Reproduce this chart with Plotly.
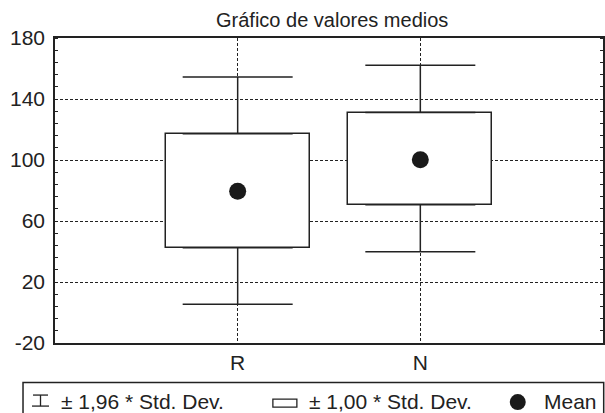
import plotly.graph_objects as go
import numpy as np

# ---- data ----
categories = ["R", "N"]
means = [79.5, 100.2]
box_low = [42.5, 70.6]      # mean - 1.00*SD
box_high = [117.2, 131.1]   # mean + 1.00*SD
whisk_low = [5.4, 39.9]     # mean - 1.96*SD
whisk_high = [154.4, 162.1] # mean + 1.96*SD
y_ticks = [-20, 20, 60, 100, 140, 180]

title_text = "Gráfico de valores medios"
legend_labels = ["± 1,96 * Std. Dev.", "± 1,00 * Std. Dev.", "Mean"]

# ---- layout geometry ----
W, H = 605, 413
L, R_, T, B = 55, 603.3, 38.4, 343.0
FONT = "Liberation Sans, Arial, Helvetica, sans-serif"
INK = "#222222"

def px(x):
    return (x - L) / (R_ - L)

def py(y):
    return (B - y) / (B - T)

xpos = np.arange(len(categories))
bl = np.array(box_low); bh = np.array(box_high)
wl = np.array(whisk_low); wh = np.array(whisk_high)

fig = go.Figure()

# boxes (+/- 1 SD)
fig.add_trace(go.Bar(
    x=xpos, y=bh - bl, base=bl, width=0.79,
    marker=dict(color="white", line=dict(color=INK, width=1.5)),
    showlegend=False, hoverinfo="skip"))

# upper whiskers
fig.add_trace(go.Scatter(
    x=xpos, y=bh, mode="markers", marker=dict(size=0.1, color="rgba(0,0,0,0)"),
    error_y=dict(type="data", symmetric=False, array=wh - bh, arrayminus=np.zeros(len(bh)),
                 color=INK, thickness=1.5, width=55),
    showlegend=False, hoverinfo="skip"))
# lower whiskers
fig.add_trace(go.Scatter(
    x=xpos, y=bl, mode="markers", marker=dict(size=0.1, color="rgba(0,0,0,0)"),
    error_y=dict(type="data", symmetric=False, array=np.zeros(len(bl)), arrayminus=bl - wl,
                 color=INK, thickness=1.5, width=55),
    showlegend=False, hoverinfo="skip"))

# means
fig.add_trace(go.Scatter(
    x=xpos, y=means, mode="markers",
    marker=dict(size=17, color="#1a1a1a", line=dict(width=0)),
    showlegend=False, hoverinfo="skip"))

fig.update_xaxes(
    range=[-1.0, 2.0], tickvals=list(xpos), ticktext=categories,
    showgrid=True, gridcolor=INK, gridwidth=1, griddash="3px,2px",
    showline=True, linecolor=INK, linewidth=1.5, mirror=True,
    ticks="", zeroline=False,
    tickfont=dict(family=FONT, size=21, color=INK))
fig.update_yaxes(
    range=[-20, 180], tickvals=y_ticks, ticktext=[str(v) for v in y_ticks],
    showgrid=True, gridcolor=INK, gridwidth=1, griddash="3px,2px",
    showline=True, linecolor=INK, linewidth=1.5, mirror="allticks",
    ticks="", zeroline=False, ticklabelstandoff=4,
    minor=dict(dtick=8, tick0=-20, ticks="inside", ticklen=3, tickcolor=INK,
               tickwidth=1, showgrid=False),
    tickfont=dict(family=FONT, size=21, color=INK))

shapes = []
annotations = []

# title
annotations.append(dict(text=title_text, x=px(332), y=py(20), xref="paper", yref="paper",
                        showarrow=False, xanchor="center", yanchor="middle",
                        font=dict(family=FONT, size=20, color=INK)))

# legend frame
shapes.append(dict(type="rect", xref="paper", yref="paper",
                   x0=px(23), x1=px(604), y0=py(382.5), y1=py(430),
                   line=dict(color=INK, width=1.5), fillcolor="white", layer="above"))
# legend icon 1: whisker glyph
ly = 401
for (x0, y0, x1, y1) in [(33, 395, 48, 395), (40.5, 395, 40.5, 406), (32, 406, 49, 406)]:
    shapes.append(dict(type="line", xref="paper", yref="paper",
                       x0=px(x0), y0=py(y0), x1=px(x1), y1=py(y1),
                       line=dict(color=INK, width=1.3)))
# legend icon 2: rectangle
shapes.append(dict(type="rect", xref="paper", yref="paper",
                   x0=px(273), x1=px(297), y0=py(399), y1=py(407),
                   line=dict(color=INK, width=1.3), fillcolor="white"))
# legend icon 3: filled circle
shapes.append(dict(type="circle", xref="paper", yref="paper",
                   x0=px(510), x1=px(526), y0=py(394), y1=py(410),
                   line=dict(color="#1a1a1a", width=0), fillcolor="#1a1a1a"))

for txt, x in zip(legend_labels, [59, 307, 542]):
    annotations.append(dict(text=txt, x=px(x), y=py(ly), xref="paper", yref="paper",
                            showarrow=False, xanchor="left", yanchor="middle",
                            font=dict(family=FONT, size=21, color=INK)))

fig.update_layout(
    width=W, height=H,
    margin=dict(l=L, r=W - R_, t=T, b=H - B, autoexpand=False),
    paper_bgcolor="white", plot_bgcolor="white",
    shapes=shapes, annotations=annotations, showlegend=False,
    bargap=0)

fig.write_html("out.html", config={"displayModeBar": False},
               post_script="document.body.style.margin='0';document.body.style.overflow='hidden';")
